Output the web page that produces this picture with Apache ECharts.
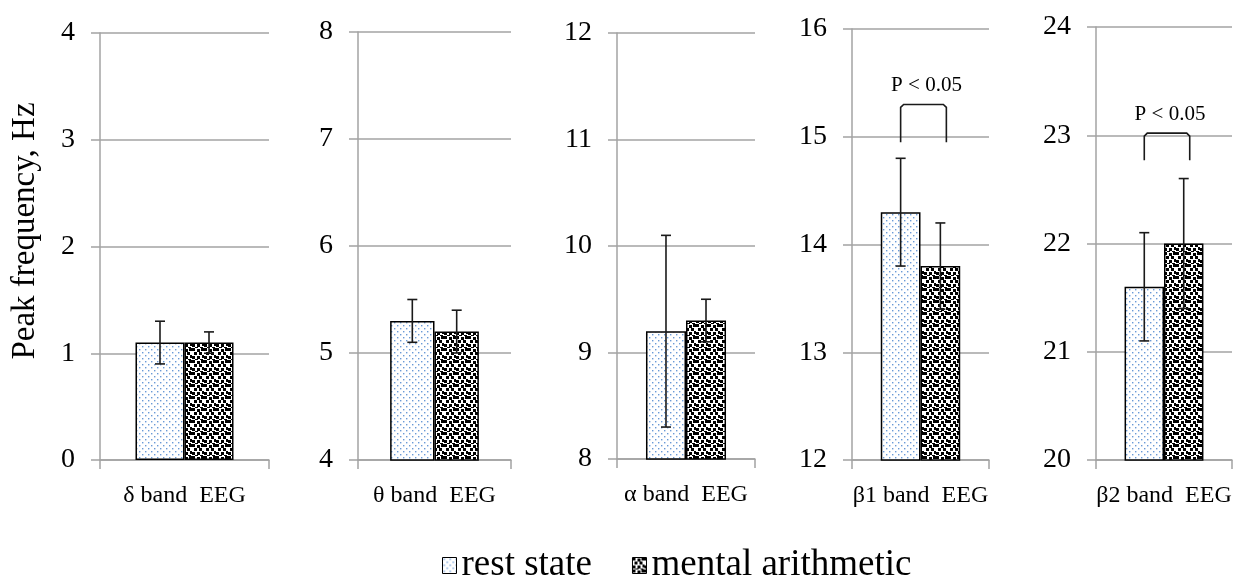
<!DOCTYPE html>
<html>
<head>
<meta charset="utf-8">
<script src="https://cdn.jsdelivr.net/npm/echarts@6/dist/echarts.min.js"></script>
<style>
html,body{margin:0;padding:0;background:#fff;}
#chart{width:1241px;height:580px;}
</style>
</head>
<body>
<div id="chart"></div>
<script>
// ---- data ----
const categories = ['δ band  EEG', 'θ band  EEG', 'α band  EEG', 'β1 band  EEG', 'β2 band  EEG'];
const seriesNames = ['rest state', 'mental arithmetic'];
const restValues = [1.1, 5.3, 9.2, 14.3, 21.6];
const restErrors = [0.2, 0.2, 0.9, 0.5, 0.5];
const mentalValues = [1.1, 5.2, 9.3, 13.8, 22.0];
const mentalErrors = [0.1, 0.2, 0.2, 0.4, 0.6];
const axisMins = [0, 4, 8, 12, 20];
const axisMaxs = [4, 8, 12, 16, 24];
const axisInterval = 1;
const yAxisTitle = 'Peak frequency, Hz';
const bracketPanels = [3, 4];
const bracketTops = [15.3, 23.02];
const bracketLegs = [14.95, 22.77];
const bracketLabels = ['P < 0.05', 'P < 0.05'];

// ---- layout ----
const gridBoxes = [
  {left: 100, width: 169, top: 33, height: 427},
  {left: 358, width: 153, top: 32, height: 428},
  {left: 617, width: 138, top: 33, height: 426},
  {left: 852, width: 137, top: 29, height: 431},
  {left: 1096, width: 136, top: 27, height: 433}
];
const FONT = '"Liberation Serif", "Times New Roman", serif';
const GRAY = '#a3a3a3';
const BAR_FRACTION = 0.58;

function makePattern(kind) {
  const c = document.createElement('canvas');
  const ctx = c.getContext('2d');
  if (kind === 'rest') {
    c.width = 6; c.height = 6;
    ctx.fillStyle = '#ffffff'; ctx.fillRect(0, 0, 6, 6);
    ctx.fillStyle = '#6a9ad6';
    ctx.fillRect(1, 1, 1.4, 1.4);
    ctx.fillRect(4, 4, 1.4, 1.4);
  } else {
    c.width = 12; c.height = 12;
    ctx.fillStyle = '#ffffff'; ctx.fillRect(0, 0, 12, 12);
    ctx.fillStyle = '#000000';
    const sq = [[0,0],[5,1],[9,0],[2,4],[7,4],[10,7],[0,8],[5,8],[3,11],[8,11]];
    sq.forEach(p => ctx.fillRect(p[0], p[1], 3, 3));
  }
  return c;
}
const restFill = {image: makePattern('rest'), repeat: 'repeat'};
const mentalFill = {image: makePattern('mental'), repeat: 'repeat'};

const grids = [], xAxes = [], yAxes = [], series = [];
categories.forEach((cat, i) => {
  grids.push(Object.assign({containLabel: false}, gridBoxes[i]));
  xAxes.push({
    type: 'category', gridIndex: i, data: [cat], boundaryGap: true,
    axisLine: {lineStyle: {color: GRAY, width: 1.5}},
    axisTick: {show: true, length: 9, lineStyle: {color: GRAY, width: 1.5}},
    axisLabel: {color: '#000', fontFamily: FONT, fontSize: 24, margin: 24}
  });
  yAxes.push({
    type: 'value', gridIndex: i, min: axisMins[i], max: axisMaxs[i], interval: axisInterval,
    axisLine: {show: true, lineStyle: {color: GRAY, width: 1.5}},
    axisTick: {show: true, length: 9, lineStyle: {color: GRAY, width: 1.5}},
    splitLine: {show: true, lineStyle: {color: GRAY, width: 1.5}},
    axisLabel: {color: '#000', fontFamily: FONT, fontSize: 28, margin: 25}
  });
  series.push({
    name: seriesNames[0], type: 'bar', xAxisIndex: i, yAxisIndex: i,
    data: [restValues[i]], barGap: '0%', barCategoryGap: '42%',
    itemStyle: {color: restFill, borderColor: '#000', borderWidth: 1.5},
    silent: true, z: 2
  });
  series.push({
    name: seriesNames[1], type: 'bar', xAxisIndex: i, yAxisIndex: i,
    data: [mentalValues[i]], barGap: '0%', barCategoryGap: '42%',
    itemStyle: {color: mentalFill, borderColor: '#000', borderWidth: 1.5},
    silent: true, z: 2
  });
  series.push({
    name: 'err' + i, type: 'custom', xAxisIndex: i, yAxisIndex: i, z: 5, silent: true,
    data: [[0, 0, restValues[i], restErrors[i]], [0, 1, mentalValues[i], mentalErrors[i]]],
    renderItem: function (params, api) {
      const x = api.value(0), side = api.value(1), v = api.value(2), e = api.value(3);
      const bw = api.size([1, 0])[0] * BAR_FRACTION / 2;
      const cx = api.coord([x, v])[0] + (side === 0 ? -bw / 2 : bw / 2);
      const yt = api.coord([x, v + e])[1], yb = api.coord([x, v - e])[1];
      const st = {stroke: '#1a1a1a', lineWidth: 1.6};
      return {type: 'group', children: [
        {type: 'line', shape: {x1: cx, y1: yt, x2: cx, y2: yb}, style: st},
        {type: 'line', shape: {x1: cx - 5, y1: yt, x2: cx + 5, y2: yt}, style: st},
        {type: 'line', shape: {x1: cx - 5, y1: yb, x2: cx + 5, y2: yb}, style: st}
      ]};
    }
  });
});

bracketPanels.forEach((p, k) => {
  series.push({
    name: 'bracket' + k, type: 'custom', xAxisIndex: p, yAxisIndex: p, z: 6, silent: true,
    data: [[0, bracketTops[k], bracketLegs[k]]],
    renderItem: function (params, api) {
      const bw = api.size([1, 0])[0] * BAR_FRACTION / 2;
      const c = api.coord([0, api.value(1)]);
      const yl = api.coord([0, api.value(2)])[1];
      const x1 = c[0] - bw / 2, x2 = c[0] + bw / 2 + 6, yt = c[1];
      const st = {stroke: '#1a1a1a', lineWidth: 1.6, fill: null};
      return {type: 'group', children: [
        {type: 'polyline', shape: {points: [[x1, yl], [x1, yt + 3], [x1 + 3, yt], [x2 - 3, yt], [x2, yt + 3], [x2, yl]]}, style: st},
        {type: 'text', style: {text: bracketLabels[k], x: (x1 + x2) / 2 + 3, y: yt - 8, align: 'center', verticalAlign: 'bottom',
          font: '21px ' + FONT, fill: '#000'}}
      ]};
    }
  });
});

const chart = echarts.init(document.getElementById('chart'), null, {renderer: 'canvas'});
chart.setOption({
  animation: false,
  backgroundColor: '#fff',
  grid: grids,
  xAxis: xAxes,
  yAxis: yAxes,
  legend: {
    data: seriesNames, left: 437, top: 542, itemWidth: 14, itemHeight: 16, itemGap: 40, icon: 'rect',
    textStyle: {fontFamily: FONT, fontSize: 37, color: '#000'},
    itemStyle: {borderColor: '#000', borderWidth: 1}
  },
  graphic: [{
    type: 'text', x: 25, y: 231, rotation: Math.PI / 2,
    style: {text: yAxisTitle, align: 'center', verticalAlign: 'middle', font: '33px ' + FONT, fill: '#000'}
  }],
  series: series
});
</script>
</body>
</html>
